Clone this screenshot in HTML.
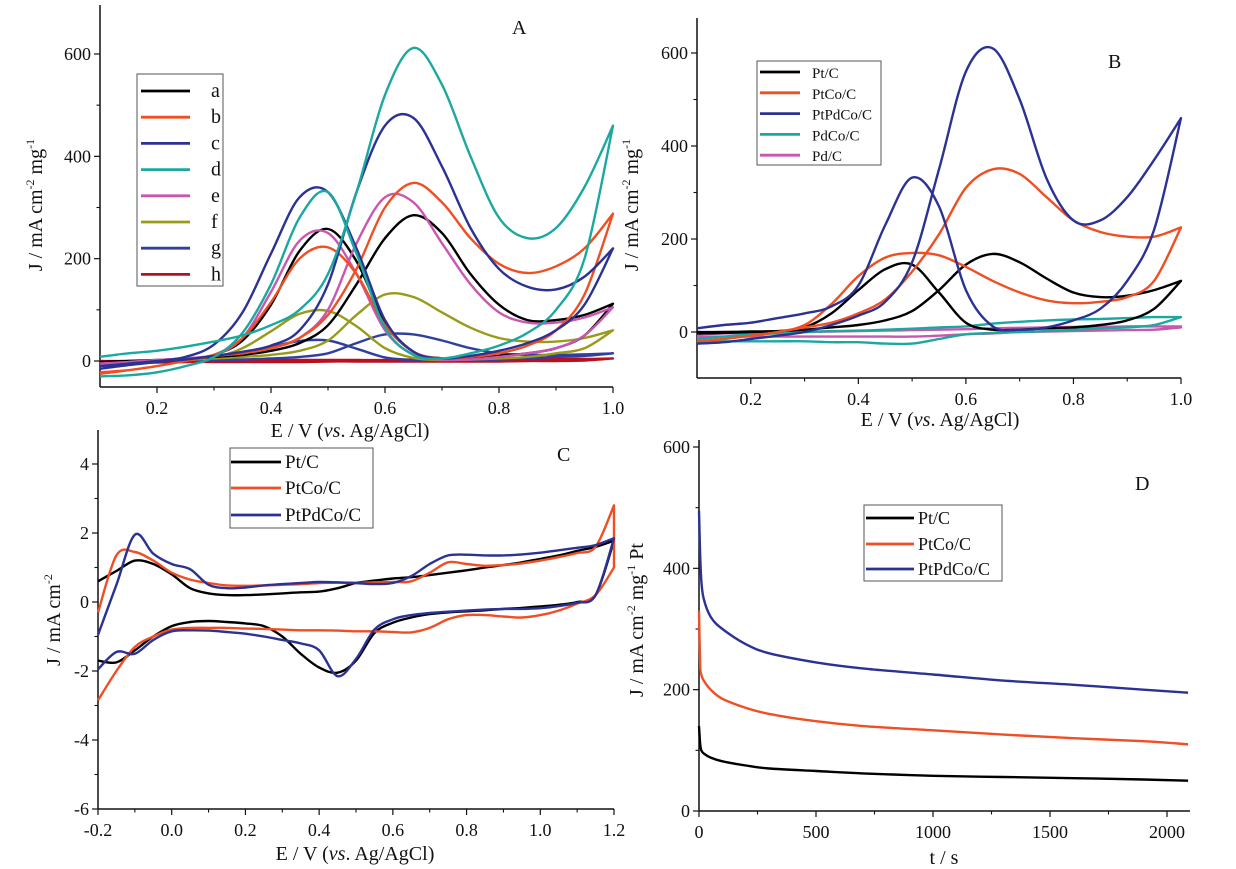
<!DOCTYPE html>
<html><head><meta charset="utf-8"><style>
html,body{margin:0;padding:0;background:#fff}
svg{display:block;font-family:"Liberation Serif",serif}
</style></head><body>
<svg id="fig" width="1236" height="869" viewBox="0 0 1236 869" xmlns="http://www.w3.org/2000/svg"></svg>
<script>
// ---------- data ----------
const xsAB = [0.1,0.15,0.2,0.25,0.3,0.35,0.4,0.45,0.5,0.55,0.6,0.65,0.7,0.75,0.8,0.85,0.9,0.95,1.0];
// Panel A
const aFwdA = [-2,0,2,5,8,12,20,35,70,150,240,285,250,170,110,80,80,90,112];
const aBwdA = [-5,-3,0,3,12,40,110,215,258,195,75,18,5,5,10,15,25,50,112];
const bFwdA = [-25,-18,-10,0,10,15,25,45,90,180,300,348,310,240,190,172,185,220,288];
const bBwdA = [-22,-18,-10,0,12,45,115,200,222,170,70,18,5,8,15,30,60,130,288];
const cFwdA = [-15,-8,-2,3,10,18,30,60,150,330,460,475,380,260,180,145,140,165,220];
const cBwdA = [-10,-5,0,8,32,95,210,320,330,220,80,18,5,10,20,35,60,110,220];
const dFwdA = [8,15,20,28,38,50,70,100,170,330,520,612,540,400,280,240,260,340,460];
const dBwdA = [-30,-28,-22,-10,8,55,150,280,330,210,65,12,5,15,30,55,100,200,460];
const eFwdA = [-5,-2,2,5,10,15,25,45,100,230,320,310,230,150,95,75,75,85,105];
const eBwdA = [-5,-3,0,4,12,45,135,235,250,170,60,12,3,3,8,15,25,50,105];
const fFwdA = [-3,-1,1,3,5,8,12,20,40,90,130,125,95,65,45,38,38,45,60];
const fBwdA = [-3,-2,0,2,7,25,58,92,98,68,25,6,2,3,5,8,15,25,60];
const gFwdA = [-3,-1,0,1,2,3,5,8,15,35,52,52,40,25,15,12,12,13,15];
const gBwdA = [-3,-2,0,1,4,12,27,39,40,24,7,2,1,2,3,5,8,10,15];
const hFwdA = [0,0,1,1,1,1,2,2,2,2,2,3,3,3,3,3,4,4,5];
const hBwdA = [-3,-3,-3,-2,-2,-2,-2,-2,-1,-1,-1,-1,-1,-1,-1,0,0,1,5];
const labelsA = ['a','b','c','d','e','f','g','h'];
// Panel B
const ptFwdB = [0,0,1,2,5,10,15,25,45,90,145,168,150,115,85,75,78,90,110];
const ptBwdB = [-3,-2,0,2,10,40,90,135,145,85,20,5,5,8,10,15,25,50,110];
const ptcoFwdB = [-20,-15,-8,0,10,20,40,70,130,210,310,350,340,290,240,215,205,205,225];
const ptcoBwdB = [-20,-15,-8,0,15,60,120,160,170,165,140,110,85,68,62,65,75,110,225];
const ptpdcoFwdB = [-25,-22,-15,-8,0,15,35,65,150,350,560,610,500,330,240,240,290,370,460];
const ptpdcoBwdB = [8,15,20,30,40,55,100,230,332,270,90,12,5,10,25,50,110,220,460];
const pdcoLowB = [-20,-20,-20,-20,-20,-22,-22,-25,-25,-15,-5,-2,0,2,5,8,10,15,32];
const pdcoUpB = [-15,-10,-5,-3,0,2,3,5,7,10,12,18,22,25,27,28,30,32,32];
const pdLowB = [-10,-10,-10,-10,-10,-10,-10,-10,-10,-8,-5,-3,0,1,2,3,4,5,10];
const pdUpB = [-5,-3,-2,0,0,1,2,3,4,5,6,8,9,10,11,11,12,12,12];
const labelsB = ['Pt/C','PtCo/C','PtPdCo/C','PdCo/C','Pd/C'];
// Panel C
const xsC = [-0.2,-0.15,-0.1,-0.05,0,0.05,0.1,0.15,0.2,0.25,0.3,0.35,0.4,0.45,0.5,0.55,0.6,0.65,0.7,0.75,0.8,0.85,0.9,0.95,1.0,1.05,1.1,1.15,1.2];
const ptUpC = [0.6,0.9,1.2,1.1,0.8,0.4,0.25,0.2,0.2,0.22,0.25,0.28,0.3,0.4,0.55,0.62,0.68,0.72,0.78,0.85,0.92,1.0,1.07,1.15,1.25,1.35,1.48,1.6,1.78];
const ptLowC = [-1.7,-1.75,-1.4,-1.0,-0.7,-0.58,-0.55,-0.58,-0.62,-0.7,-1.0,-1.5,-1.9,-2.05,-1.7,-0.9,-0.6,-0.45,-0.35,-0.3,-0.27,-0.24,-0.2,-0.17,-0.13,-0.08,0.0,0.2,1.78];
const ptcoUpC = [-0.3,1.35,1.45,1.2,0.85,0.65,0.55,0.48,0.47,0.48,0.5,0.52,0.55,0.56,0.55,0.57,0.58,0.6,0.85,1.15,1.1,1.05,1.07,1.12,1.2,1.3,1.42,1.6,2.8];
const ptcoLowC = [-2.85,-2.0,-1.3,-1.0,-0.8,-0.75,-0.75,-0.75,-0.77,-0.78,-0.8,-0.82,-0.82,-0.83,-0.85,-0.85,-0.87,-0.88,-0.75,-0.5,-0.38,-0.38,-0.42,-0.45,-0.38,-0.25,-0.05,0.2,1.0];
const ptpdcoUpC = [-0.95,0.5,1.95,1.4,1.1,0.95,0.5,0.4,0.42,0.48,0.52,0.55,0.58,0.57,0.55,0.52,0.55,0.75,1.1,1.35,1.37,1.35,1.35,1.38,1.43,1.5,1.57,1.65,1.85];
const ptpdcoLowC = [-1.95,-1.45,-1.5,-1.1,-0.85,-0.82,-0.83,-0.87,-0.92,-1.0,-1.1,-1.2,-1.4,-2.15,-1.65,-0.8,-0.5,-0.38,-0.32,-0.28,-0.25,-0.22,-0.2,-0.2,-0.18,-0.12,-0.02,0.2,1.85];
const labelsC = ['Pt/C','PtCo/C','PtPdCo/C'];
// Panel D
const tD = [0,5,10,20,50,100,200,300,500,700,1000,1300,1600,1900,2090];
const ptD = [140,110,100,95,88,82,75,70,66,62,58,56,54,52,50];
const ptcoD = [330,240,225,215,200,185,170,160,148,140,133,126,120,115,110];
const ptpdcoD = [495,420,380,350,320,300,275,260,245,235,225,215,208,200,195];
const labelsD = ['Pt/C','PtCo/C','PtPdCo/C'];

const COL = {k:'#000000',o:'#f04e23',b:'#2b3293',t:'#1ba8a0',p:'#c857b0',ol:'#9a9a1a',g:'#3040a0',r:'#b8101e'};
const NS='http://www.w3.org/2000/svg';
const svg=document.getElementById('fig');
function el(tag,attrs,parent){const e=document.createElementNS(NS,tag);for(const k in attrs)e.setAttribute(k,attrs[k]);(parent||svg).appendChild(e);return e;}
function lin(d0,d1,p0,p1){return v=>p0+(v-d0)*(p1-p0)/(d1-d0);}
function smooth(pts){let d='M'+pts[0][0].toFixed(1)+','+pts[0][1].toFixed(1);
 for(let i=0;i<pts.length-1;i++){const p0=pts[Math.max(0,i-1)],p1=pts[i],p2=pts[i+1],p3=pts[Math.min(pts.length-1,i+2)];
  const c1=[p1[0]+(p2[0]-p0[0])/6,p1[1]+(p2[1]-p0[1])/6],c2=[p2[0]-(p3[0]-p1[0])/6,p2[1]-(p3[1]-p1[1])/6];
  d+=' C'+c1[0].toFixed(1)+','+c1[1].toFixed(1)+' '+c2[0].toFixed(1)+','+c2[1].toFixed(1)+' '+p2[0].toFixed(1)+','+p2[1].toFixed(1);}
 return d;}
function text(x,y,s,attrs,parent){const t=el('text',Object.assign({x:x,y:y,'font-size':18,fill:'#111'},attrs||{}),parent);t.textContent=s;return t;}

function axes(o){
 const g=el('g',{});
 
 
 el('line',{x1:o.x0,y1:o.yTop,x2:o.x0,y2:o.yBot,stroke:'#111','stroke-width':1.5},g);
 el('line',{x1:o.x0,y1:o.yBot,x2:o.xEnd,y2:o.yBot,stroke:'#111','stroke-width':1.5},g);
 o.xt.forEach((v,i)=>{const x=o.sx(v);el('line',{x1:x,y1:o.yBot,x2:x,y2:o.yBot+6,stroke:'#111','stroke-width':1.2},g);
  const t=text(x,o.yBot+27,o.xl[i],{'text-anchor':'middle'},g);});
 (o.xm||[]).forEach(v=>{const x=o.sx(v);el('line',{x1:x,y1:o.yBot,x2:x,y2:o.yBot+3.5,stroke:'#111','stroke-width':1.1},g);});
 o.yt.forEach((v,i)=>{const y=o.sy(v);el('line',{x1:o.x0-6,y1:y,x2:o.x0,y2:y,stroke:'#111','stroke-width':1.2},g);
  const t=text(o.x0-9,y+6,o.yl[i],{'text-anchor':'end'},g);});
 (o.ym||[]).forEach(v=>{const y=o.sy(v);el('line',{x1:o.x0-3.5,y1:y,x2:o.x0,y2:y,stroke:'#111','stroke-width':1.1},g);});
 return g;}
function loop(xs,fwd,bwd,sx,sy,col,name){
 const pts=xs.map((x,i)=>[sx(x),sy(fwd[i])]);
 const back=xs.map((x,i)=>[sx(x),sy(bwd[i])]).reverse();
 const d=smooth(pts)+' '+smooth(back).replace('M','L');
 const p=el('path',{d:d,fill:'none',stroke:col,'stroke-width':2.4,'stroke-linejoin':'round'});
 
 }
function legend(x,y,w,h,items,lx1,lx2,tx,ys,name,fs){
 const g=el('g',{});
 
 
 el('rect',{x:x,y:y,width:w,height:h,fill:'#fff',stroke:'#555','stroke-width':1},g);
 items.forEach((it,i)=>{el('line',{x1:lx1,y1:ys[i],x2:lx2,y2:ys[i],stroke:it[1],'stroke-width':2.8},g);
  const t=text(tx,ys[i]+6,it[0],{'font-size':fs},g);});}
function vtitle(x,y,html,name){const t=el('text',{x:0,y:0,'font-size':20,'text-anchor':'middle',fill:'#111',transform:'translate('+x+','+y+') rotate(-90)'});t.innerHTML=html;}
function htitle(x,y,html,name){const t=el('text',{x:x,y:y,'font-size':20,'text-anchor':'middle',fill:'#111'});t.innerHTML=html;}
const EVT='E / V (<tspan font-style="italic">vs</tspan>. Ag/AgCl)';

// ---------- Panel A ----------
{const sx=lin(0.1,1.0,100,613),sy=lin(0,600,361,54);
 axes({name:'panel-a',x0:100,xEnd:613,yTop:5,yBot:387,sx,sy,xt:[0.2,0.4,0.6,0.8,1.0],xl:['0.2','0.4','0.6','0.8','1.0'],xm:[0.3,0.5,0.7,0.9],yt:[0,200,400,600],yl:['0','200','400','600'],ym:[100,300,500]});
 const series=[[hFwdA,hBwdA,COL.r,'h'],[gFwdA,gBwdA,COL.g,'g'],[fFwdA,fBwdA,COL.ol,'f'],[aFwdA,aBwdA,COL.k,'a'],[eFwdA,eBwdA,COL.p,'e'],[bFwdA,bBwdA,COL.o,'b'],[cFwdA,cBwdA,COL.b,'c'],[dFwdA,dBwdA,COL.t,'d']];
 series.forEach(s=>loop(xsAB,s[0],s[1],sx,sy,s[2],'curve-'+s[3]));
 const cols=[COL.k,COL.o,COL.b,COL.t,COL.p,COL.ol,COL.g,COL.r];
 legend(137,74,86,212,labelsA.map((l,i)=>[l,cols[i]]),141,190,211,labelsA.map((l,i)=>91+i*26.2),'legend-a',20);
 text(512,34,'A',{'font-size':20});
 vtitle(42,205,'J / mA cm<tspan dy="-8" font-size="12">-2</tspan><tspan dy="8"> mg</tspan><tspan dy="-8" font-size="12">-1</tspan>','y-axis-title-a');
 htitle(350,437,EVT,'x-axis-title-a');}

// ---------- Panel B ----------
{const sx=lin(0.1,1.0,697,1181),sy=lin(0,600,332,53);
 axes({name:'panel-b',x0:697,xEnd:1181,yTop:18,yBot:378,sx,sy,xt:[0.2,0.4,0.6,0.8,1.0],xl:['0.2','0.4','0.6','0.8','1.0'],xm:[0.3,0.5,0.7,0.9],yt:[0,200,400,600],yl:['0','200','400','600'],ym:[100,300,500]});
 const series=[[pdLowB,pdUpB,COL.p,'pd-c'],[pdcoLowB,pdcoUpB,COL.t,'pdco-c'],[ptFwdB,ptBwdB,COL.k,'pt-c'],[ptcoFwdB,ptcoBwdB,COL.o,'ptco-c'],[ptpdcoFwdB,ptpdcoBwdB,COL.b,'ptpdco-c']];
 series.forEach(s=>loop(xsAB,s[0],s[1],sx,sy,s[2],'curve-b-'+s[3]));
 const cols=[COL.k,COL.o,COL.b,COL.t,COL.p];
 legend(757,61,124,104,labelsB.map((l,i)=>[l,cols[i]]),760,800,812,labelsB.map((l,i)=>72+i*20.8),'legend-b',15);
 text(1108,68,'B',{'font-size':20});
 vtitle(638,205,'J / mA cm<tspan dy="-8" font-size="12">-2</tspan><tspan dy="8"> mg</tspan><tspan dy="-8" font-size="12">-1</tspan>','y-axis-title-b');
 htitle(940,426,EVT,'x-axis-title-b');}

// ---------- Panel C ----------
{const sx=lin(-0.2,1.2,98,614),sy=lin(0,4,602,464);
 axes({name:'panel-c',x0:98,xEnd:614,yTop:430,yBot:809,sx,sy,xt:[-0.2,0,0.2,0.4,0.6,0.8,1.0,1.2],xl:['-0.2','0.0','0.2','0.4','0.6','0.8','1.0','1.2'],xm:[-0.1,0.1,0.3,0.5,0.7,0.9,1.1],yt:[-6,-4,-2,0,2,4],yl:['-6','-4','-2','0','2','4'],ym:[-5,-3,-1,1,3]});
 const series=[[ptUpC,ptLowC,COL.k,'pt-c'],[ptcoUpC,ptcoLowC,COL.o,'ptco-c'],[ptpdcoUpC,ptpdcoLowC,COL.b,'ptpdco-c']];
 series.forEach(s=>loop(xsC,s[0],s[1],sx,sy,s[2],'curve-c-'+s[3]));
 const cols=[COL.k,COL.o,COL.b];
 legend(230,448,143,80,labelsC.map((l,i)=>[l,cols[i]]),231,281,285,[462,488,515],'legend-c',19);
 text(557,461,'C',{'font-size':20});
 vtitle(60,620,'J / mA cm<tspan dy="-8" font-size="12">-2</tspan>','y-axis-title-c');
 htitle(355,860,EVT,'x-axis-title-c');}

// ---------- Panel D ----------
{const sx=lin(0,2000,699,1167),sy=lin(0,600,811,447);
 axes({name:'panel-d',x0:699,xEnd:1190,yTop:440,yBot:811,sx,sy,xt:[0,500,1000,1500,2000],xl:['0','500','1000','1500','2000'],xm:[250,750,1250,1750],yt:[0,200,400,600],yl:['0','200','400','600'],ym:[100,300,500]});
 [[ptD,COL.k,'pt-c'],[ptcoD,COL.o,'ptco-c'],[ptpdcoD,COL.b,'ptpdco-c']].forEach(s=>{
  const p=el('path',{d:smooth(tD.map((t,i)=>[sx(t),sy(s[0][i])])),fill:'none',stroke:s[1],'stroke-width':2.4});
  
  });
 const cols=[COL.k,COL.o,COL.b];
 legend(864,505,138,76,labelsD.map((l,i)=>[l,cols[i]]),866,914,918,[518,544,569],'legend-d',18);
 text(1135,490,'D',{'font-size':20});
 vtitle(643,620,'J / mA cm<tspan dy="-8" font-size="12">-2</tspan><tspan dy="8"> mg</tspan><tspan dy="-8" font-size="12">-1</tspan><tspan dy="8"> Pt</tspan>','y-axis-title-d');
 htitle(944,864,'t / s','x-axis-title-d');}
</script>
</body></html>
